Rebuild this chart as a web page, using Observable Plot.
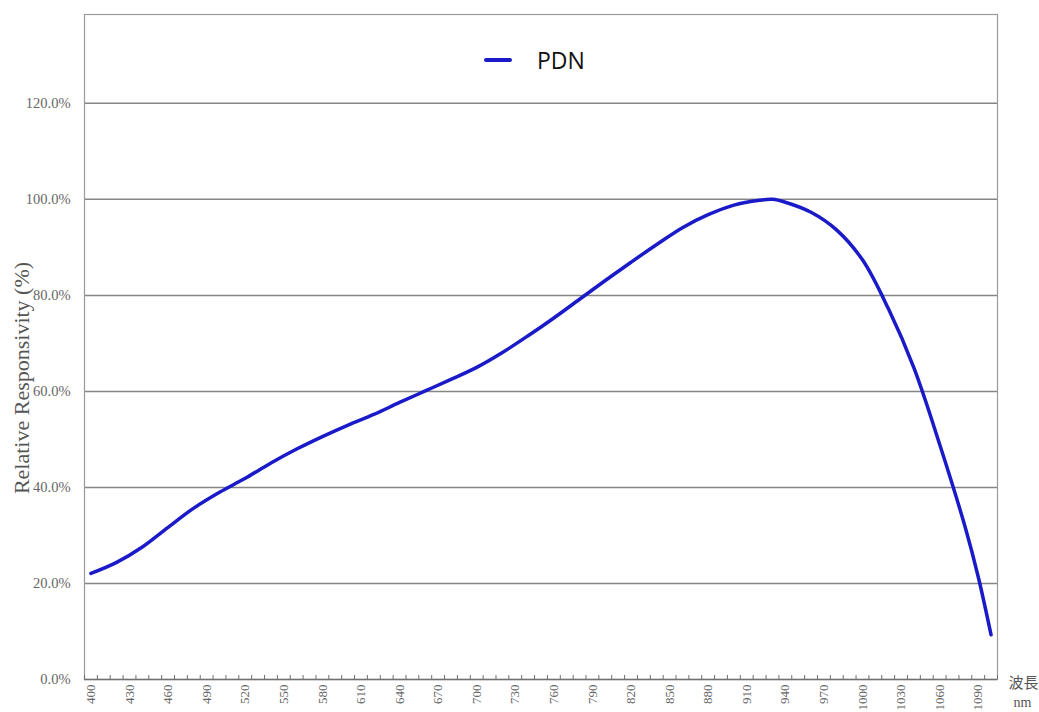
<!DOCTYPE html>
<html>
<head>
<meta charset="utf-8">
<script src="https://cdn.jsdelivr.net/npm/d3@7"></script>
<script src="https://cdn.jsdelivr.net/npm/@observablehq/plot@0.6"></script>
<style>
  body { margin: 0; background: #fff; }
  #wrap { position: relative; width: 1039px; height: 712px; overflow: hidden; }
  #legend { position: absolute; left: 484px; top: 44px; display: flex; align-items: center;
            font-family: "Open Sans", sans-serif; font-size: 23px; color: #111; }
  #legend .sw { width: 28px; height: 4px; border-radius: 2px; margin-right: 25px; }
</style>
</head>
<body>
<div id="wrap"></div>
<script>
// ---- data ----
const seriesName = "PDN";
const wavelength = [400, 420, 440, 460, 480, 500, 520, 540, 560, 580, 600, 620, 640, 660, 680, 700,
                    720, 740, 760, 780, 800, 820, 840, 860, 880, 900, 920, 930, 940, 960, 980,
                    1000, 1020, 1040, 1060, 1080, 1090, 1100];
const responsivity = [22.1, 24.4, 27.6, 31.7, 35.7, 39.0, 41.9, 45.1, 48.0, 50.6, 53.0, 55.2, 57.7, 60.1, 62.5, 65.0,
                      68.1, 71.6, 75.3, 79.2, 83.1, 86.9, 90.6, 94.1, 96.8, 98.8, 99.8, 100.0, 99.4, 97.3, 93.6,
                      87.4, 77.3, 64.9, 49.0, 31.6, 21.4, 9.3];
const yTicks = [0, 20, 40, 60, 80, 100, 120];
const xLabelTicks = [400, 430, 460, 490, 520, 550, 580, 610, 640, 670, 700, 730, 760, 790, 820,
                     850, 880, 910, 940, 970, 1000, 1030, 1060, 1090];
const xDomain = [395, 1105];
const minorTicks = d3.range(xDomain[0], xDomain[1] + 1, 10);
const yTitle = "Relative Responsivity (%)";
const unitLabel = "波長";
const unitSub = "nm";
const lineColor = "#1a1ac8";

const data = wavelength.map((w, i) => ({w, r: responsivity[i]}));
const serif = "'Liberation Serif', 'DejaVu Serif', serif";

const chart = Plot.plot({
  width: 1039,
  height: 712,
  marginLeft: 84,
  marginRight: 42,
  marginTop: 14,
  marginBottom: 33,
  style: {background: "transparent"},
  x: {domain: xDomain},
  y: {domain: [0, 138.5]},
  marks: [
    Plot.ruleY(yTicks.filter(d => d > 0), {stroke: "#858585", strokeWidth: 1.5}),
    Plot.frame({stroke: "#9a9a9a", strokeWidth: 1.2}),
    Plot.ruleY([0], {stroke: "#707070", strokeWidth: 1.5}),
    Plot.axisX({ticks: minorTicks, tickSize: 4, dy: -4, tickFormat: () => "", stroke: "#707070", label: null}),
    Plot.axisX({ticks: xLabelTicks, tickSize: 0, tickPadding: 5, tickRotate: -90,
                tickFormat: d => String(d), fontFamily: serif, fontSize: 13, fill: "#666", label: null}),
    Plot.axisY({ticks: yTicks, tickSize: 0, tickPadding: 14, tickFormat: d => d.toFixed(1) + "%",
                fontFamily: serif, fontSize: 14.5, fill: "#666", label: null}),
    Plot.text([yTitle], {text: d => d, frameAnchor: "left", textAnchor: "middle", rotate: -90, dx: -63, dy: 31,
                         fontFamily: serif, fontSize: 22, fill: "#555"}),
    Plot.text([unitLabel], {text: d => d, frameAnchor: "bottom-right", textAnchor: "start", dx: 11, dy: 8,
                            fontFamily: "'Noto Sans CJK TC', sans-serif", fontSize: 15, fill: "#555"}),
    Plot.text([unitSub], {text: d => d, frameAnchor: "bottom-right", textAnchor: "start", dx: 16, dy: 27,
                          fontFamily: serif, fontSize: 14, fill: "#555"}),
    Plot.line(data, {x: "w", y: "r", stroke: lineColor, strokeWidth: 3.5, curve: "catmull-rom"})
  ]
});

const wrap = document.getElementById("wrap");
wrap.appendChild(chart);
const legend = document.createElement("div");
legend.id = "legend";
const sw = document.createElement("span");
sw.className = "sw";
sw.style.background = lineColor;
const lab = document.createElement("span");
lab.textContent = seriesName;
legend.appendChild(sw);
legend.appendChild(lab);
wrap.appendChild(legend);
</script>
</body>
</html>
